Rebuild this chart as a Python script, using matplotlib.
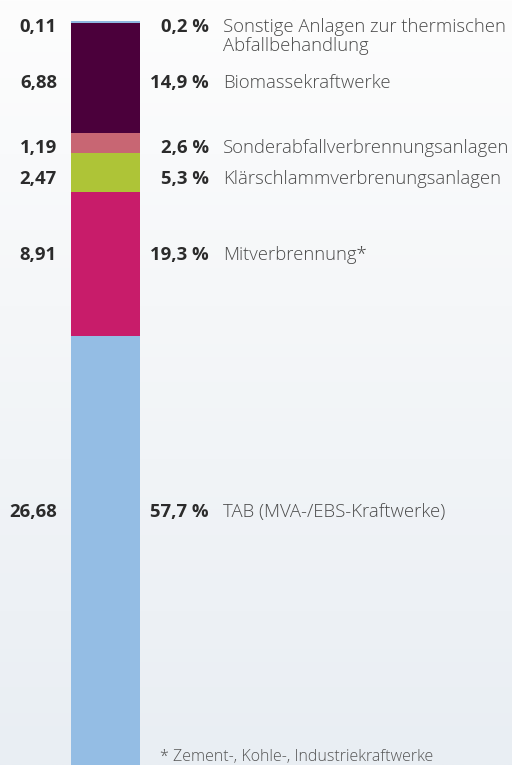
import matplotlib
matplotlib.use("Agg")
import matplotlib.pyplot as plt
import numpy as np

# Data (bottom to top)
categories = ["TAB (MVA-/EBS-Kraftwerke)", "Mitverbrennung*", "Klärschlammverbrenungsanlagen",
              "Sonderabfallverbrennungsanlagen", "Biomassekraftwerke",
              "Sonstige Anlagen zur thermischen\nAbfallbehandlung"]
values = [26.68, 8.91, 2.47, 1.19, 6.88, 0.11]
value_labels = ["26,68", "8,91", "2,47", "1,19", "6,88", "0,11"]
percent_labels = ["57,7 %", "19,3 %", "5,3 %", "2,6 %", "14,9 %", "0,2 %"]
colors = ["#94bde4", "#c81c6a", "#aec437", "#c86673", "#4b003b", "#8fb8e0"]
footnote = "* Zement-, Kohle-, Industriekraftwerke"

plt.rcParams['font.family'] = ['Open Sans', 'DejaVu Sans']

W, H = 512, 765
fig = plt.figure(figsize=(W / 100, H / 100), dpi=100)

# background gradient
bg = fig.add_axes([0, 0, 1, 1], zorder=-1)
grad = np.linspace(0, 1, 256).reshape(-1, 1)
top = np.array([0xfd, 0xfd, 0xfd]) / 255
bot = np.array([0xe9, 0xee, 0xf3]) / 255
img = top[None, None, :] * (1 - grad[:, :, None]) + bot[None, None, :] * grad[:, :, None]
bg.imshow(img, aspect='auto', extent=[0, 1, 0, 1])
bg.axis('off')

ax = fig.add_axes([0, 0, 1, 1])
ax.patch.set_alpha(0)
ax.axis('off')
total = sum(values)
bar_top_px = 21
ax.set_xlim(0, W)
ax.set_ylim(0, total * H / (H - bar_top_px))

bar_x = 105.5
bar_w = 69
bottoms = np.concatenate([[0], np.cumsum(values)[:-1]])
ax.bar([bar_x] * len(values), values, bottom=bottoms, width=bar_w, color=colors,
       linewidth=0)

FS = 13.3
# label vertical nudges in pixels (positive = up)
nudges = [38, 9, -7, -4.5, -5, -5]
for v, b, vl, pl, cat, dy in zip(values, bottoms, value_labels, percent_labels, categories, nudges):
    yc = b + v / 2
    ax.annotate(vl, xy=(57, yc), xytext=(0, dy), textcoords='offset pixels',
                ha='right', va='center', fontsize=FS, fontweight='bold', color='#2b2b2b')
    ax.annotate(pl, xy=(209, yc), xytext=(0, dy), textcoords='offset pixels',
                ha='right', va='center', fontsize=FS, fontweight='bold', color='#2b2b2b')
    lines = cat.split("\n")
    ax.annotate(lines[0], xy=(223, yc), xytext=(0, dy), textcoords='offset pixels',
                ha='left', va='center', fontsize=FS, fontweight='light', color='#4a4a4a')
    if len(lines) > 1:
        ax.annotate(lines[1], xy=(223, yc), xytext=(0, dy - 19), textcoords='offset pixels',
                    ha='left', va='center', fontsize=FS, fontweight='light', color='#4a4a4a')

fig.text(160 / W, 1 - 757 / H, footnote, ha='left', va='center', fontsize=11.5,
         fontweight='light', color='#555555')

fig.savefig("out.png", dpi=100)
